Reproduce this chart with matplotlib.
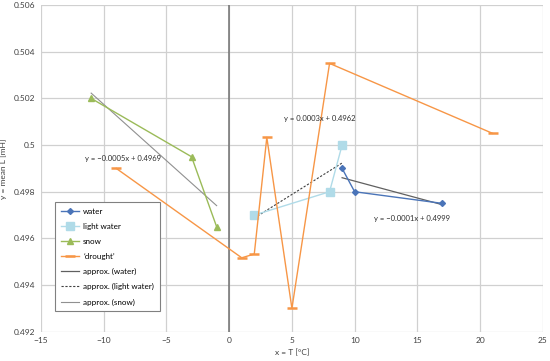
import numpy as np
import matplotlib
matplotlib.use("Agg")
import matplotlib.pyplot as plt

plt.rcParams['font.family'] = ['Lato', 'DejaVu Sans']

water_x = [9, 10, 17]
water_y = [0.499, 0.498, 0.4975]
light_x = [2, 8, 9]
light_y = [0.497, 0.498, 0.500]
snow_x = [-11, -3, -1]
snow_y = [0.502, 0.4995, 0.4965]
drought_x = [-9, 1, 2, 3, 5, 8, 21]
drought_y = [0.499, 0.49517, 0.49533, 0.50033, 0.493, 0.5035, 0.5005]

x_ticks = [-15, -10, -5, 0, 5, 10, 15, 20, 25]
y_ticks = [0.492, 0.494, 0.496, 0.498, 0.5, 0.502, 0.504, 0.506]
y_tick_labels = ["0.492", "0.494", "0.496", "0.498", "0.5", "0.502", "0.504", "0.506"]

eq_snow = "y = \u22120.0005x + 0.4969"
eq_light = "y = 0.0003x + 0.4962"
eq_water = "y = \u22120.0001x + 0.4999"

fig = plt.figure(figsize=(5.5, 3.61), dpi=100)
ax = fig.add_axes([0.0745, 0.081, 0.9125, 0.905])

ax.set_xlim(-15, 25)
ax.set_ylim(0.492, 0.506)
ax.set_xticks(x_ticks)
ax.set_yticks(y_ticks)
ax.set_yticklabels(y_tick_labels)
ax.grid(True, color='#d0d0d0', linewidth=0.9)
ax.set_axisbelow(True)
for s in ax.spines.values():
    s.set_visible(False)
ax.tick_params(length=0, labelsize=6, colors='#404040', pad=4)
ax.axvline(0, color='#707070', linewidth=1.1, zorder=1)

ax.plot(water_x, water_y, color='#4a74b8', marker='D', markersize=3, linewidth=1, label='water', zorder=4)
ax.plot(light_x, light_y, color='#b0dbe8', marker='s', markersize=5.5, linewidth=1, label='light water', zorder=3)
ax.plot(snow_x, snow_y, color='#9bbb59', marker='^', markersize=4, linewidth=1, label='snow', zorder=3)
ax.plot(drought_x, drought_y, color='#f79646', marker='_', markersize=7, markeredgewidth=1.8, linewidth=1, label="\u2018drought\u2019", zorder=3)

def trend(xs, ys):
    k, b = np.polyfit(xs, ys, 1)
    xx = np.array([min(xs), max(xs)])
    return xx, k * xx + b

tx, ty = trend(water_x, water_y)
ax.plot(tx, ty, color='#606060', linewidth=0.9, label='approx. (water)', zorder=2)
tx, ty = trend(light_x, light_y)
ax.plot(tx, ty, color='#404040', linewidth=0.8, linestyle=(0, (2, 1.5)), label='approx. (light water)', zorder=2)
tx, ty = trend(snow_x, snow_y)
ax.plot(tx, ty, color='#909090', linewidth=0.8, label='approx. (snow)', zorder=2)

ax.text(-8.5, 0.49944, eq_snow, fontsize=5.5, ha='center', va='center', color='#303030')
ax.text(7.2, 0.50115, eq_light, fontsize=5.5, ha='center', va='center', color='#303030')
ax.text(14.55, 0.49686, eq_water, fontsize=5.5, ha='center', va='center', color='#303030')

ax.set_xlabel("x = T [\u00b0C]", fontsize=6, color='#404040', labelpad=3)
ax.set_ylabel("y = mean L [mH]", fontsize=6, color='#404040', labelpad=5)

leg = ax.legend(loc='upper left', bbox_to_anchor=(0.028, 0.397), fontsize=5.8, frameon=True,
                fancybox=False, edgecolor='#808080', framealpha=1, handlelength=2.3,
                handletextpad=0.5, labelspacing=1.0, borderpad=0.7, borderaxespad=0)
leg.get_frame().set_linewidth(0.8)

fig.savefig("out.png", dpi=100)
